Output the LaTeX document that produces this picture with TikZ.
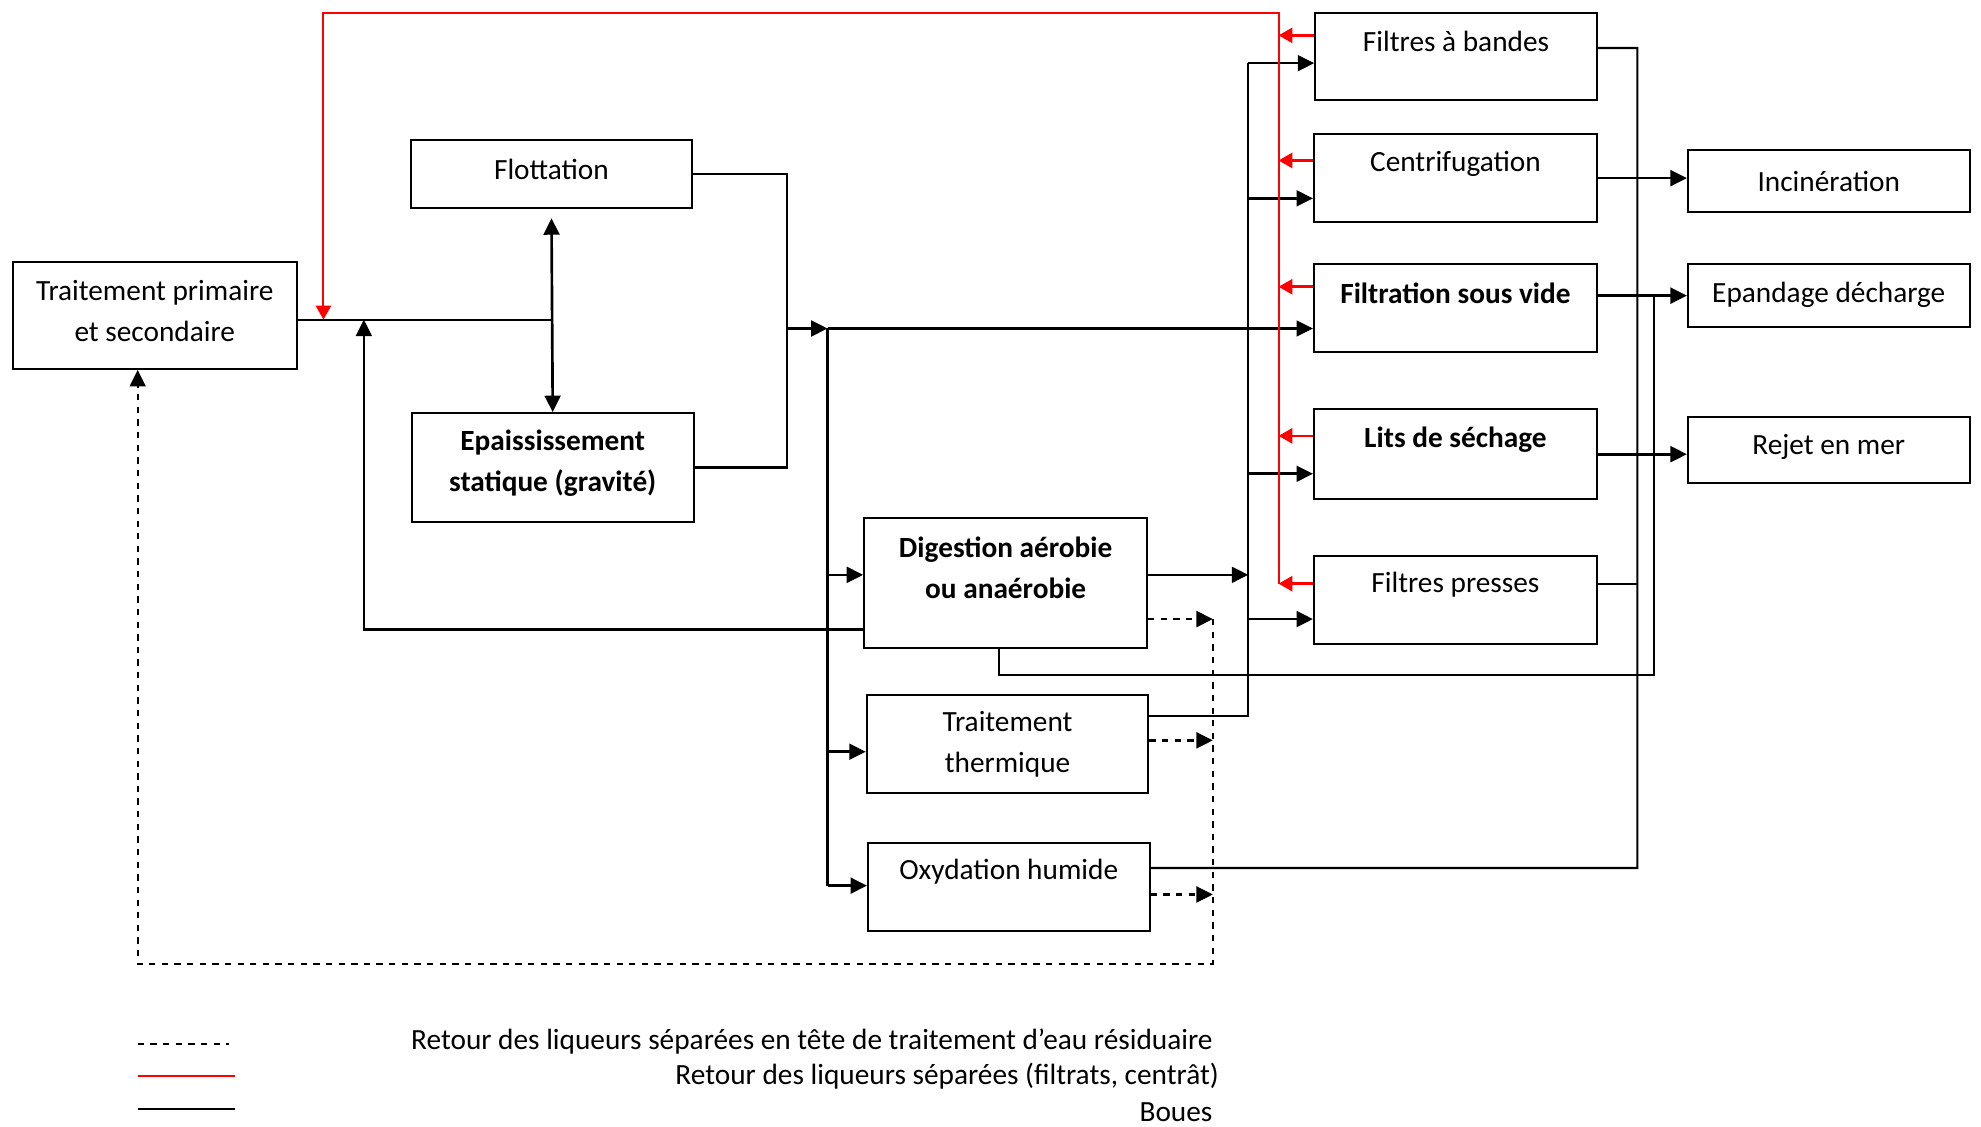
\documentclass[tikz,border=0pt]{standalone}
\usepackage{fontspec}
\setmainfont{Carlito}
\usetikzlibrary{arrows.meta, positioning, calc}
\newcommand{\boxfont}{\fontsize{13.2}{18.5}\selectfont}

\begin{document}
\begin{tikzpicture}[x=0.2mm, y=-0.2mm, >={Triangle[length=2.6mm, width=2.5mm]}, font=\boxfont]
    \tikzstyle{box} = [rectangle, draw, line width=0.9pt, minimum width=4.46cm, inner sep=0pt]
    \tikzstyle{txt} = [font=\boxfont, align=center, inner sep=0pt]
    \tikzstyle{btxt} = [txt, font=\boxfont\bfseries]
    \tikzstyle{boue} = [line width=1pt]
    \tikzstyle{flow} = [line width=1.2pt, ->]
    \tikzstyle{filtrat} = [red, line width=0.9pt, >={Triangle[length=2.2mm, width=2.4mm]}]
    \tikzstyle{liqueur} = [line width=0.9pt, dash pattern=on 1mm off 1mm]

    \useasboundingbox (0,0) rectangle (1568,892);

    % Boxes: left part
    \node (tp)   [box, minimum width=4.5cm, minimum height=1.7cm,
                  label={[txt, yshift=0.7mm]center:Traitement primaire\\et secondaire}] at (122.5,249.5) {};
    \node (flot) [box, minimum height=1.08cm, label={[txt, yshift=0.8mm]center:Flottation}] at (436.5,138) {};
    \node (epai) [box, minimum height=1.72cm,
                  label={[btxt, yshift=0.6mm]center:Epaississement\\statique (gravité)}] at (437.5,370) {};

    % Boxes: stabilisation
    \node (dige) [box, minimum width=4.48cm, minimum height=2.06cm,
                  label={[btxt, yshift=2.4mm]center:Digestion aérobie\\ou anaérobie}] at (796,461.5) {};
    \node (ther) [box, minimum height=1.56cm, label={[txt]center:Traitement\\thermique}] at (797.5,589) {};
    \node (oxyd) [box, minimum height=1.4cm, label={[txt, yshift=2.4mm]center:Oxydation humide}] at (798.5,702) {};

    % Boxes: deshydratation
    \node (band) [box, minimum height=1.38cm, label={[txt, yshift=2.3mm]center:Filtres à bandes}] at (1152.5,44.5) {};
    \node (cent) [box, minimum width=4.48cm, minimum height=1.4cm, label={[txt, yshift=2.2mm]center:Centrifugation}] at (1152,141) {};
    \node (fsv)  [box, minimum width=4.48cm, minimum height=1.4cm, label={[btxt, yshift=2.4mm]center:Filtration sous vide}] at (1152,244) {};
    \node (lits) [box, minimum width=4.48cm, minimum height=1.42cm, label={[btxt, yshift=2.3mm]center:Lits de séchage}] at (1152,359.5) {};
    \node (fpre) [box, minimum width=4.48cm, minimum height=1.4cm, label={[txt, yshift=2.4mm]center:Filtres presses}] at (1152,475) {};

    % Boxes: destinations
    \node (inci)  [box, minimum height=0.98cm, label={[txt]center:Incinération}] at (1447.5,143.5) {};
    \node (epan)  [box, minimum height=1.0cm, label={[txt, yshift=0.2mm]center:Epandage décharge}] at (1447.5,234) {};
    \node (rejet) [box, minimum height=1.04cm, label={[txt, yshift=0.4mm]center:Rejet en mer}] at (1447.5,356) {};

    % Junction points
    \coordinate (jf) at (437,253);
    \coordinate (jr) at (288,498);
    \coordinate (jm) at (623,260);
    \coordinate (jd) at (655,260);
    \coordinate (jb) at (988,567);
    \coordinate (jl) at (960,763);
    \coordinate (jv) at (1296,687);
    \coordinate (je) at (1309,534);
    \coordinate (rtop) at (1012,10);
    \coordinate (rl) at (256,10);

    % Traitement primaire -> flottation / epaississement
    \draw [boue] (tp.east |- jf) -- (jf);
    \draw [boue, <->, line width=1.2pt] ([yshift=-1.4mm]flot.south) -- (epai.north);

    % flottation + epaississement -> stabilisation / deshydratation
    \draw [boue] (flot.east) -| (jm) |- (epai.east);
    \draw [flow] (jm) -- (jd);
    \draw [boue, ->] (jd) -- (fsv.west |- jd);
    \draw [boue] (jd) -- ([yshift=0.2mm]jd |- oxyd.west);
    \foreach \n/\s in {dige/1.3, ther/-1.2, oxyd/0.2}
      \draw [flow] ([yshift=\s mm]jd |- \n.west) -- ([yshift=\s mm]\n.west);

    % Digestion -> back to the main line
    \draw [flow] (dige.west |- jr) -- (jr) -- (jr |- jf);

    % Digestion, traitement thermique -> deshydratation
    \draw [flow] ([yshift=1.3mm]dige.east) -- ([yshift=1.3mm]dige.east -| jb);
    \draw [boue] (ther.east |- jb) -- (jb) -- ([yshift=-1.1mm]band.west -| jb);
    \foreach \n/\s in {band/-1.1, cent/-3.2, lits/-3.1, fpre/-3}
      \draw [flow] ([yshift=\s mm]\n.west -| jb) -- ([yshift=\s mm]\n.west);

    % Liqueurs separees -> tete de traitement (dashed)
    \foreach \n/\s in {dige/-5.7, ther/0.6, oxyd/-1.2}
      \draw [liqueur, ->, line width=1.2pt] ([yshift=\s mm]\n.east) -- ([yshift=\s mm]\n.east -| jl);
    \draw [liqueur, ->] ([yshift=-5.7mm]dige.east -| jl) -- (jl) -| ([xshift=-2.7mm]tp.south);

    % Oxydation, filtres presses, digestion -> sorties
    \draw [boue] ([yshift=3mm]oxyd.east) -- (jv) |- ([yshift=1.3mm]band.east);
    \draw [boue] ([yshift=2.6mm]fpre.east) -- ([yshift=2.6mm]fpre.east -| jv);
    \draw [boue] ([xshift=-1mm]dige.south) |- (je) -- (je |- epan.west);

    % deshydratation -> destinations
    \draw [flow] (cent.east) -- (cent.east -| inci.west);
    \draw [flow] (epan.west -| fsv.east) -- (epan.west);
    \draw [flow] (lits.east) -- (lits.east -| rejet.west);

    % Filtrats, centrat (red)
    \draw [filtrat, ->] ([yshift=2.6mm]fpre.west -| rtop) -- (rtop) -- (rl) -- (rl |- jf);
    \foreach \n/\s in {band/3.3, cent/2.8, fsv/3.4, lits/2.9, fpre/2.6}
      \draw [filtrat, ->, line width=1.2pt] ([yshift=\s mm]\n.west) -- ([yshift=\s mm]\n.west -| rtop);

    % Legend
    \draw [liqueur] (109,826) -- (181,826);
    \draw [filtrat] (109,852) -- (186,852);
    \draw [boue] (109,878) -- (186,878);
    \node (lg1) [txt, anchor=east] at (960,824) {Retour des liqueurs séparées en tête de traitement d’eau résiduaire};
    \node (lg2) [txt, anchor=east] at (965,852) {Retour des liqueurs séparées (filtrats, centrât)};
    \node (lg3) [txt, anchor=east] at (960,880) {Boues};
\end{tikzpicture}
\end{document}
